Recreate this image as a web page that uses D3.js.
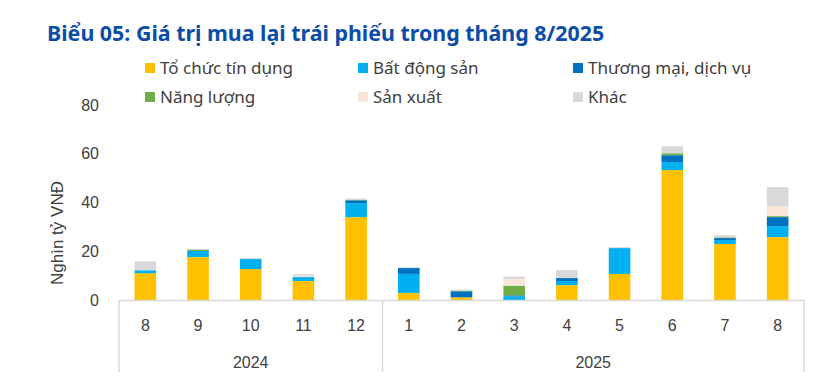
<!DOCTYPE html>
<html><head><meta charset="utf-8">
<script src="https://cdn.jsdelivr.net/npm/d3@7"></script>
<style>
body{margin:0;background:#fff;}
svg{display:block;}
</style></head>
<body>
<svg id="c" width="838" height="381"></svg>
<script>
const months = ["8","9","10","11","12","1","2","3","4","5","6","7","8"];
const years = [{label:"2024", start:0, end:5},{label:"2025", start:5, end:13}];
const seriesNames = ["Tổ chức tín dụng","Bất động sản","Thương mại, dịch vụ","Năng lượng","Sản xuất","Khác"];
const seriesColors = ["#FFC000","#00B0F0","#0070C0","#70AD47","#FBE5D6","#D9D9D9"];
const tctd   = [11.0,17.6,12.7,7.8,34.0,2.9,1.1,0.0,6.1,10.7,53.3,23.0,25.8];
const bds    = [1.2,2.5,4.1,1.6,5.7,7.8,0.0,1.5,1.7,10.6,3.3,1.6,4.5];
const tmdv   = [0.0,0.0,0.0,0.0,1.2,2.4,2.5,0.4,1.2,0.0,2.8,0.8,3.7];
const nangLuong = [0.0,0.6,0.0,0.0,0.3,0.0,0.3,4.0,0.0,0.0,0.8,0.3,0.4];
const sanXuat   = [0.0,0.0,0.0,0.5,0.0,0.0,0.2,2.7,0.0,0.0,0.0,0.0,4.1];
const khac      = [3.7,0.3,0.4,0.7,0.4,0.4,0.2,1.0,3.3,0.4,2.9,0.9,7.8];
const yTicks = [0,20,40,60,80];
const title = "Biểu 05: Giá trị mua lại trái phiếu trong tháng 8/2025";
const yTitle = "Nghìn tỷ VNĐ";

const seriesValues = [tctd,bds,tmdv,nangLuong,sanXuat,khac];
const rows = months.map((m,i)=>{
  const r = {idx:i};
  seriesNames.forEach((s,j)=>{ r[s]=seriesValues[j][i]; });
  return r;
});

const svg = d3.select("#c");
const x0 = 119, x1 = 804, yBase = 300, yTop = 105;
const x = d3.scaleBand().domain(d3.range(months.length)).range([x0,x1]).paddingInner(0.59).paddingOuter(0.295);
const y = d3.scaleLinear().domain([0,80]).range([yBase,yTop]);
const color = d3.scaleOrdinal().domain(seriesNames).range(seriesColors);

// Title
svg.append("text").attr("x",47).attr("y",41)
  .attr("font-family","'Noto Sans', sans-serif").attr("font-weight","bold")
  .attr("font-size",21.4).attr("fill","#0C4DA6").text(title);

// Legend
const legCols = [145,358,573], legRows = [68,97];
seriesNames.forEach((s,i)=>{
  const cx = legCols[i%3], cy = legRows[Math.floor(i/3)];
  svg.append("rect").attr("x",cx).attr("y",cy-5).attr("width",10).attr("height",10).attr("fill",color(s));
  svg.append("text").attr("x",cx+15).attr("y",cy).attr("dy","0.35em")
    .attr("font-family","'Noto Sans', sans-serif").attr("font-size",17).attr("fill","#404040").text(s);
});

// Y axis labels
const yAxis = d3.axisLeft(y).tickValues(yTicks).tickSize(0).tickPadding(0);
const gy = svg.append("g").attr("transform","translate(99,0)").call(yAxis);
gy.select(".domain").remove();
gy.selectAll("text").attr("font-family","'Liberation Sans', Arial, sans-serif").attr("font-size",16).attr("fill","#404040");

svg.append("text").attr("transform","translate(63,233) rotate(-90)").attr("text-anchor","middle")
  .attr("font-family","'Liberation Sans', Arial, sans-serif").attr("font-size",17).attr("fill","#404040").text(yTitle);

// Bars
const stack = d3.stack().keys(seriesNames);
const stacked = stack(rows);
svg.append("g").selectAll("g").data(stacked).join("g").attr("fill",d=>color(d.key))
  .selectAll("rect").data(d=>d).join("rect")
  .attr("x",d=>x(d.data.idx)).attr("width",x.bandwidth())
  .attr("y",d=>y(d[1])).attr("height",d=>Math.max(0,y(d[0])-y(d[1])));

// X axis (multi-level)
const axisColor = "#D9D9D9";
svg.append("line").attr("x1",x0).attr("x2",x1).attr("y1",yBase+0.5).attr("y2",yBase+0.5).attr("stroke",axisColor).attr("stroke-width",1.5);
const boundaries = [0,5,13].map(i=> x0 + i*(x1-x0)/months.length);
boundaries.forEach(bx=>{
  svg.append("line").attr("x1",bx).attr("x2",bx).attr("y1",yBase).attr("y2",372).attr("stroke",axisColor).attr("stroke-width",1.5);
});
const xAxis = d3.axisBottom(x).tickFormat(i=>months[i]).tickSize(0).tickPadding(0);
const gx = svg.append("g").attr("transform",`translate(0,${yBase})`).call(xAxis);
gx.select(".domain").remove();
gx.selectAll("text").attr("y",25).attr("dy","0.35em")
  .attr("font-family","'Liberation Sans', Arial, sans-serif").attr("font-size",16).attr("fill","#404040");
years.forEach((yr,k)=>{
  const cx = (boundaries[k] + boundaries[k+1])/2;
  svg.append("text").attr("x",cx).attr("y",362).attr("dy","0.35em").attr("text-anchor","middle")
    .attr("font-family","'Liberation Sans', Arial, sans-serif").attr("font-size",16).attr("fill","#404040").text(yr.label);
});
</script>
</body></html>
